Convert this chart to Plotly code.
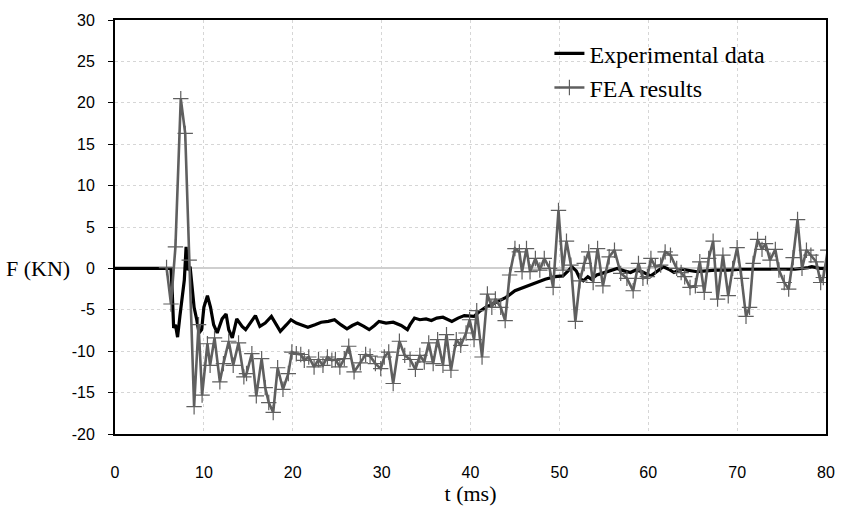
import plotly.graph_objects as go

# Experimental data (t in ms, F in kN)
exp_t = [0, 6.3, 6.45, 6.6, 6.8, 7.04, 7.3, 7.6, 7.8, 8.0, 8.2, 8.45, 8.7, 8.9, 9.2, 9.45,
         9.75, 10.0, 10.4, 10.75, 11.1, 11.5, 12.05, 12.5, 12.8, 13.2, 13.7, 14.3, 14.7, 15.3,
         15.8, 16.3, 16.9, 17.6, 18.2, 18.6, 19.3, 19.8, 20.4, 20.9, 21.7, 22.5, 23.2, 24.0,
         24.7, 25.4, 26.1, 26.7, 27.3, 28.0, 28.6, 29.2, 29.7, 30.5, 31.3, 32.2, 32.9, 33.2,
         33.7, 34.3, 35.0, 35.6, 36.2, 36.9, 37.9, 38.6, 39.3, 40.4, 41.0, 41.7, 42.8, 44.0,
         45.0, 46.2, 47.3, 48.4, 49.5, 50.4, 50.9, 51.4, 51.9, 52.3, 52.7, 53.2, 53.6, 54.2,
         54.8, 55.8, 56.5, 57.3, 58.0, 58.6, 59.3, 60.3, 61.0, 61.7, 62.3, 62.9, 63.7, 64.4,
         65.5, 66.5, 67.5, 69.0, 70.5, 72.0, 73.5, 75.0, 76.5, 78.0, 78.4, 79.3, 80.0]
exp_f = [0, 0, -3.1, -7.2, -6.8, -8.3, -5.8, -2.7, -1.4, 2.6, -0.2, 0.2, -2.7, -4.7, -6.2, -7.8,
         -7.4, -4.7, -3.3, -4.7, -6.8, -7.8, -6.1, -5.5, -7.4, -8.4, -6.1, -7.0, -7.4, -6.4,
         -5.7, -7.0, -6.6, -5.8, -6.8, -7.6, -6.8, -6.2, -6.6, -6.8, -7.1, -6.8, -6.5, -6.4,
         -6.2, -6.8, -7.3, -6.9, -6.6, -7.0, -7.4, -6.9, -6.4, -6.6, -6.5, -6.9, -7.4, -6.8,
         -6.0, -6.2, -6.1, -6.3, -6.0, -5.9, -6.4, -6.0, -5.7, -5.8, -5.2, -4.7, -4.1, -3.5,
         -2.7, -2.2, -1.7, -1.3, -1.0, -0.9, -0.4, 0.2, -0.3, -1.2, -1.5, -1.0, -1.3, -0.8,
         -0.6, -0.2, 0.0, -0.3, -0.5, -0.2, -0.4, -0.9, -0.3, 0.2, -0.1, -0.5, -0.1, -0.2,
         -0.4, -0.3, -0.2, -0.2, -0.1, -0.1, -0.1, -0.1, -0.1, 0.1, 0.2, 0.0, 0.0]

# FEA results
fea_t = [5.8, 6.3, 6.8, 7.4, 7.9, 8.35, 8.9, 9.4, 9.8, 10.4, 10.7, 11.2, 11.8, 12.2, 12.8,
         13.3, 13.9, 14.5, 14.8, 15.4, 15.9, 16.5, 16.9, 17.3, 17.8, 18.3, 18.9, 19.5, 19.9,
         20.4, 20.9, 21.3, 21.8, 22.4, 22.9, 23.4, 23.9, 24.4, 24.8, 25.3, 25.8, 26.3, 26.9,
         27.6, 28.2, 28.7, 29.3, 29.9, 30.3, 30.8, 31.3, 32.0, 32.6, 33.2, 33.8, 34.3, 34.8,
         35.3, 35.8, 36.3, 36.9, 37.3, 37.8, 38.4, 38.9, 39.5, 39.9, 40.4, 40.7, 41.3, 41.9,
         42.4, 42.8, 43.4, 43.9, 44.4, 45.0, 45.5, 45.8, 46.3, 46.7, 47.3, 47.8, 48.3, 48.9,
         49.3, 49.9, 50.4, 50.8, 51.3, 51.8, 52.3, 52.8, 53.3, 53.8, 54.3, 54.9, 55.6, 56.2,
         56.9, 57.6, 58.3, 58.9, 59.4, 59.9, 60.3, 60.8, 61.4, 61.9, 62.5, 63.2, 63.7, 64.1,
         64.7, 65.3, 65.8, 66.3, 66.8, 67.3, 67.8, 68.4, 69.0, 69.5, 70.0, 70.5, 71.0, 71.4,
         71.8, 72.3, 72.8, 73.2, 73.7, 74.3, 74.7, 75.3, 75.8, 76.3, 76.8, 77.3, 77.8, 78.3,
         78.9, 79.4, 79.7, 80.2]
fea_f = [0.1, -4.3, 2.6, 20.5, 16.3, 1.0, -16.7, -6.8, -15.3, -9.1, -11.7, -8.4, -13.7, -11.5, -8.8,
         -11.7, -9.0, -13.1, -12.7, -10.3, -15.4, -10.9, -14.4, -16.2, -17.4, -12.0, -14.6, -12.7, -10.1,
         -10.3, -10.4, -11.1, -10.7, -11.9, -11.0, -11.7, -10.7, -11.1, -11.0, -11.9, -10.9, -9.4, -12.5,
         -11.4, -10.4, -10.6, -11.5, -12.1, -10.7, -10.1, -13.9, -8.8, -10.5, -11.0, -12.2, -10.5, -11.3,
         -9.0, -11.5, -8.6, -11.7, -8.0, -12.3, -8.6, -9.3, -7.8, -6.2, -8.6, -5.1, -10.7, -3.1,
         -4.7, -3.7, -4.7, -6.3, -0.8, 2.4, 2.0, -0.4, 2.4, -0.4, 1.2, -0.2, 1.2, 0.0,
         -2.3, 7.0, -0.2, 3.3, 0.4, -6.4, -1.5, 0.6, 2.0, -1.7, 2.4, -2.1, 1.4, 2.2,
         -0.6, -1.2, -2.7, 0.6, -1.2, -1.0, 1.2, 0.2, 0.4, 2.0, 1.6, 0.0, -0.5, -1.0,
         -2.3, -2.1, 0.8, -2.9, 1.2, 3.3, -3.7, 1.6, -3.3, 0.0, 2.5, -1.2, -5.8, -4.7,
         0.6, 3.5, 2.3, 3.0, 1.0, 2.3, -0.2, -1.7, -2.5, 1.3, 5.9, 0.0, 2.2, 1.6,
         0.8, -1.7, -1.1, 2.2]

x_ticks = [0, 10, 20, 30, 40, 50, 60, 70, 80]
y_ticks = [-20, -15, -10, -5, 0, 5, 10, 15, 20, 25, 30]

fig = go.Figure()
fig.add_trace(go.Scatter(
    x=exp_t, y=exp_f, mode="lines", name="Experimental data",
    line=dict(color="black", width=3.2),
))
fig.add_trace(go.Scatter(
    x=fea_t, y=fea_f, mode="lines+markers", name="FEA results",
    line=dict(color="#5f5f5f", width=2.6),
    marker=dict(symbol="cross-thin", size=11, color="#5f5f5f",
                line=dict(color="#5f5f5f", width=1.2)),
    cliponaxis=True,
))

serif = "Liberation Serif, Times New Roman, serif"
sans = "Liberation Sans, Arial, sans-serif"

fig.update_layout(
    width=847, height=511,
    margin=dict(l=115, r=13, t=14, b=70),
    paper_bgcolor="white", plot_bgcolor="white",
    showlegend=True,
    legend=dict(
        x=0.611, y=0.973, xanchor="left", yanchor="top",
        font=dict(family=serif, size=24, color="black"),
        bgcolor="rgba(0,0,0,0)", borderwidth=0,
        itemwidth=30, tracegroupgap=0,
    ),
    xaxis=dict(
        range=[0, 80], tickvals=x_ticks, ticktext=[str(v) for v in x_ticks],
        showgrid=True, gridcolor="#d6d6d6", griddash="3px,3px", gridwidth=1,
        showline=True, linecolor="black", linewidth=2, mirror=True,
        ticks="", zeroline=False,
        tickfont=dict(family=sans, size=16, color="black"),
        ticklabelstandoff=23,
        title=dict(text="t (ms)", font=dict(family=serif, size=22, color="black"), standoff=2),
    ),
    yaxis=dict(
        range=[-20, 30], tickvals=y_ticks, ticktext=[str(v) for v in y_ticks],
        showgrid=True, gridcolor="#d6d6d6", griddash="3px,3px", gridwidth=1,
        showline=True, linecolor="black", linewidth=2, mirror=True,
        ticks="outside", ticklen=5, tickcolor="black", tickwidth=1,
        zeroline=True, zerolinecolor="#cfcfcf", zerolinewidth=1.5,
        tickfont=dict(family=sans, size=16, color="black"),
        ticklabelstandoff=10,
    ),
    annotations=[dict(
        text="F (KN)", xref="paper", yref="y", x=-0.156, y=0,
        xanchor="left", yanchor="middle", showarrow=False,
        font=dict(family=serif, size=22, color="black"),
    )],
)

fig.write_html("out.html")
